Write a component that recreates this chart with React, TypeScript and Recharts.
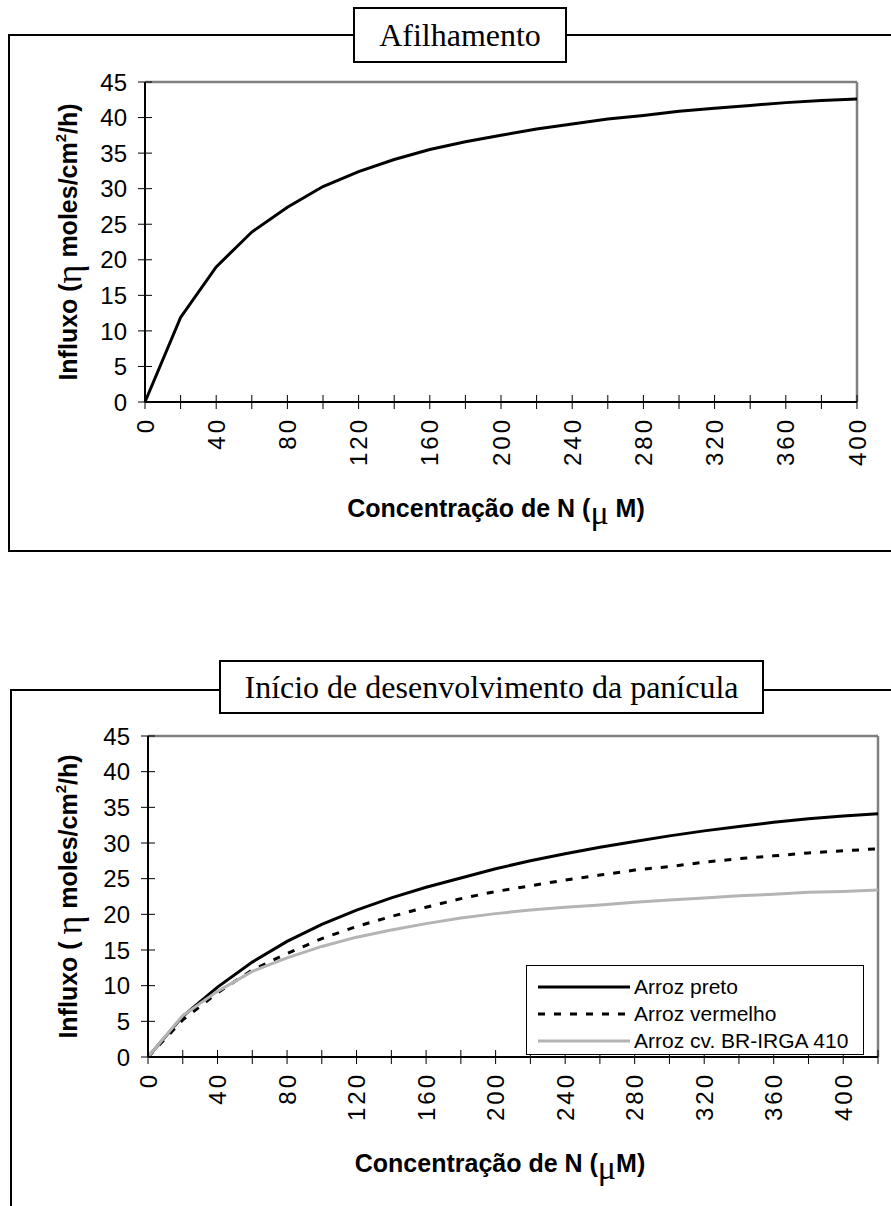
import { LineChart, Line, XAxis, YAxis, ReferenceLine, Legend, Label } from 'recharts';

// Afilhamento
const conc1 = [0, 20, 40, 60, 80, 100, 120, 140, 160, 180, 200, 220, 240, 260, 280, 300, 320, 340, 360, 380, 400];
const afilhamento = [0, 11.9, 19.0, 23.9, 27.4, 30.3, 32.4, 34.1, 35.5, 36.6, 37.5, 38.4, 39.1, 39.8, 40.3, 40.9, 41.3, 41.7, 42.1, 42.4, 42.6];

// Inicio de desenvolvimento da panicula
const conc2 = [0, 20, 40, 60, 80, 100, 120, 140, 160, 180, 200, 220, 240, 260, 280, 300, 320, 340, 360, 380, 400, 420];
const arrozPreto = [0, 5.7, 9.8, 13.3, 16.2, 18.6, 20.6, 22.3, 23.8, 25.1, 26.4, 27.5, 28.5, 29.4, 30.2, 31.0, 31.7, 32.3, 32.9, 33.4, 33.8, 34.1];
const arrozVermelho = [0, 5.2, 9.0, 12.2, 14.5, 16.6, 18.3, 19.7, 21.0, 22.2, 23.2, 24.0, 24.8, 25.5, 26.2, 26.7, 27.3, 27.8, 28.2, 28.6, 28.9, 29.2];
const arrozIrga = [0, 5.8, 9.2, 12.0, 13.9, 15.5, 16.8, 17.8, 18.7, 19.5, 20.1, 20.6, 21.0, 21.3, 21.7, 22.0, 22.3, 22.6, 22.8, 23.1, 23.2, 23.4];

const xTicks1 = [0, 20, 40, 60, 80, 100, 120, 140, 160, 180, 200, 220, 240, 260, 280, 300, 320, 340, 360, 380, 400];
const xTicks2 = [0, 20, 40, 60, 80, 100, 120, 140, 160, 180, 200, 220, 240, 260, 280, 300, 320, 340, 360, 380, 400, 420];
const yTicks = [0, 5, 10, 15, 20, 25, 30, 35, 40, 45];

const data1 = conc1.map((c, i) => ({ conc: c, influxo: afilhamento[i] }));
const data2 = conc2.map((c, i) => ({
  conc: c,
  preto: arrozPreto[i],
  vermelho: arrozVermelho[i],
  irga: arrozIrga[i],
}));

const series2 = [
  { key: 'preto', name: 'Arroz preto', color: '#000', dash: undefined },
  { key: 'vermelho', name: 'Arroz vermelho', color: '#000', dash: '7 9' },
  { key: 'irga', name: 'Arroz cv. BR-IRGA 410', color: '#b4b4b4', dash: undefined },
];

const FONT = 'Liberation Sans, Arial, sans-serif';
const SERIF = 'Liberation Serif, Times New Roman, serif';

const XTick = (props: any) => {
  const { x, y, payload } = props;
  const v = payload.value;
  return (
    <g>
      <line x1={x} x2={x} y1={y - 7} y2={y + 7} stroke="#000" strokeWidth={1} />
      {v % 40 === 0 && v <= 400 && (
        <text
          x={x}
          y={y + 15}
          transform={`rotate(-90 ${x} ${y + 15})`}
          textAnchor="end"
          dy="0.36em"
          fontSize={24}
          letterSpacing={3}
          fontFamily={FONT}
          fill="#000"
        >
          {v}
        </text>
      )}
    </g>
  );
};

const YTick = (props: any) => {
  const { x, y, payload } = props;
  return (
    <g>
      <line x1={x - 7} x2={x + 7} y1={y} y2={y} stroke="#000" strokeWidth={1} />
      <text x={x - 18} y={y} dy="0.36em" textAnchor="end" fontSize={24} fontFamily={FONT} fill="#000">
        {payload.value}
      </text>
    </g>
  );
};

const xTitle = (gap: boolean, dx: number) => (props: any) => {
  const vb = props.viewBox;
  const cx = vb.x + vb.width / 2 + dx;
  return (
    <text x={cx} y={vb.y + 115} textAnchor="middle" fontFamily={FONT} fontWeight="bold" fontSize={25} fill="#000">
      {'Concentração de N ('}
      <tspan fontFamily={SERIF} fontWeight="normal" fontSize={34} dy={7}>μ</tspan>
      <tspan dy={-7}>{gap ? ' M)' : 'M)'}</tspan>
    </text>
  );
};

const yTitle = (gap: boolean) => (props: any) => {
  const vb = props.viewBox;
  const cx = 77;
  const cy = vb.y + vb.height / 2;
  return (
    <text
      x={cx}
      y={cy}
      transform={`rotate(-90 ${cx} ${cy})`}
      textAnchor="middle"
      fontFamily={FONT}
      fontWeight="bold"
      fontSize={25}
      fill="#000"
    >
      {gap ? 'Influxo ( ' : 'Influxo ('}
      <tspan fontFamily={SERIF} fontWeight="normal" fontSize={36} dy={4}>η</tspan>
      <tspan dy={-4}>{' moles/cm'}</tspan>
      <tspan fontSize={15} dy={-11}>2</tspan>
      <tspan dy={11}>/h)</tspan>
    </text>
  );
};

const LegendBox = () => (
  <div style={{ border: '1px solid #000', background: '#fff', boxSizing: 'border-box', width: 338, height: 90, paddingTop: 7 }}>
    {series2.map((s) => (
      <div key={s.key} style={{ display: 'flex', alignItems: 'center', height: 27 }}>
        <svg width={107} height={10} style={{ display: 'block' }}>
          <line x1={11} x2={103} y1={5} y2={5} stroke={s.color} strokeWidth={3} strokeDasharray={s.dash} />
        </svg>
        <span style={{ fontFamily: FONT, fontSize: 21, color: '#000', lineHeight: '27px' }}>{s.name}</span>
      </div>
    ))}
  </div>
);

const titleBox = (left: number, top: number, width: number, height: number, text: string) => (
  <div
    style={{
      position: 'absolute',
      left,
      top,
      width,
      height,
      border: '2px solid #000',
      background: '#fff',
      boxSizing: 'border-box',
      display: 'flex',
      alignItems: 'center',
      justifyContent: 'center',
      fontFamily: SERIF,
      fontSize: 32,
      color: '#000',
    }}
  >
    {text}
  </div>
);

export default function App() {
  return (
    <div style={{ position: 'absolute', left: 0, top: 0, width: 891, height: 1206, overflow: 'hidden', background: '#fff' }}>
      <div style={{ position: 'absolute', left: 8, top: 34, width: 900, height: 514, borderLeft: '2px solid #000', borderTop: '2px solid #000', borderBottom: '2px solid #000' }} />
      <div style={{ position: 'absolute', left: 10, top: 689, width: 900, height: 600, borderLeft: '2px solid #000', borderTop: '2px solid #000' }} />

      <div style={{ position: 'absolute', left: 0, top: 0 }}>
        <LineChart width={891} height={560} data={data1} margin={{ top: 82, right: 34, bottom: 0, left: 0 }}>
          <XAxis
            dataKey="conc"
            type="number"
            domain={[0, 400]}
            ticks={xTicks1}
            interval={0}
            height={158}
            tickSize={0}
            tickMargin={0}
            tickLine={false}
            tick={<XTick />}
            axisLine={{ stroke: '#000', strokeWidth: 2 }}
          >
            <Label content={xTitle(true, -5)} />
          </XAxis>
          <YAxis
            type="number"
            domain={[0, 45]}
            ticks={yTicks}
            interval={0}
            width={145}
            tickSize={0}
            tickMargin={0}
            tickLine={false}
            tick={<YTick />}
            axisLine={{ stroke: '#000', strokeWidth: 2 }}
          >
            <Label content={yTitle(false)} />
          </YAxis>
          <ReferenceLine y={45} stroke="#808080" strokeWidth={2.5} />
          <ReferenceLine x={400} stroke="#808080" strokeWidth={2.5} />
          <Line type="linear" dataKey="influxo" stroke="#000" strokeWidth={3} dot={false} activeDot={false} isAnimationActive={false} />
        </LineChart>
      </div>

      <div style={{ position: 'absolute', left: 0, top: 640 }}>
        <LineChart width={891} height={566} data={data2} margin={{ top: 96, right: 13, bottom: 0, left: 0 }}>
          <XAxis
            dataKey="conc"
            type="number"
            domain={[0, 420]}
            ticks={xTicks2}
            interval={0}
            height={149}
            tickSize={0}
            tickMargin={0}
            tickLine={false}
            tick={<XTick />}
            axisLine={{ stroke: '#000', strokeWidth: 2 }}
          >
            <Label content={xTitle(false, -13)} />
          </XAxis>
          <YAxis
            type="number"
            domain={[0, 45]}
            ticks={yTicks}
            interval={0}
            width={148}
            tickSize={0}
            tickMargin={0}
            tickLine={false}
            tick={<YTick />}
            axisLine={{ stroke: '#000', strokeWidth: 2 }}
          >
            <Label content={yTitle(true)} />
          </YAxis>
          <ReferenceLine y={45} stroke="#808080" strokeWidth={2.5} />
          <ReferenceLine x={420} stroke="#808080" strokeWidth={2.5} />
          {series2.map((s) => (
            <Line
              key={s.key}
              type="linear"
              dataKey={s.key}
              name={s.name}
              stroke={s.color}
              strokeWidth={3}
              strokeDasharray={s.dash}
              dot={false}
              activeDot={false}
              isAnimationActive={false}
            />
          ))}
          <Legend
            layout="vertical"
            align="center"
            verticalAlign="middle"
            content={<LegendBox />}
            wrapperStyle={{ left: 526, top: 325, width: 338, height: 90 }}
          />
        </LineChart>
      </div>

      {titleBox(353, 7, 214, 56, 'Afilhamento')}
      {titleBox(219, 660, 545, 54, 'Início de desenvolvimento da panícula')}
    </div>
  );
}
